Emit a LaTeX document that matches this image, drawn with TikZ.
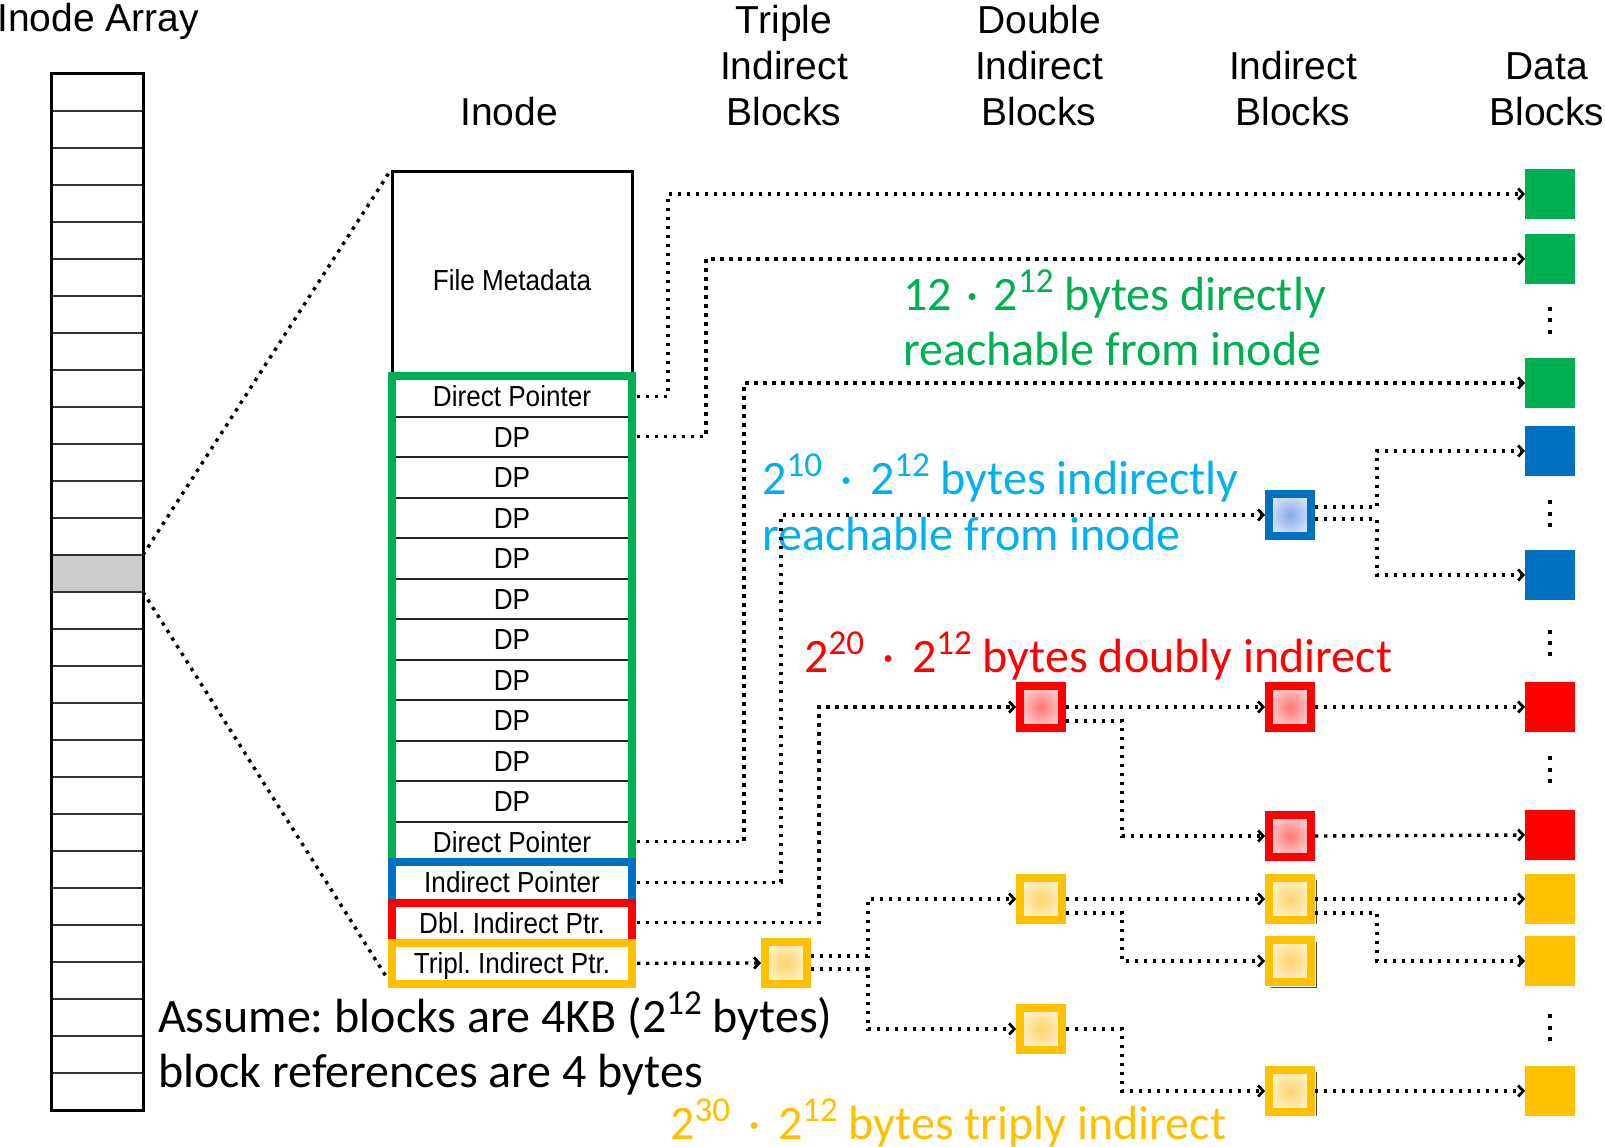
\documentclass[tikz,border=0pt]{standalone}
\usepackage{fontspec}
\setmainfont{Carlito}
\newfontfamily\hvfont{Liberation Sans}
\newfontfamily\hvnarrow[FakeStretch=0.9]{Liberation Sans}
\usetikzlibrary{arrows.meta,calc}
\frenchspacing

\definecolor{dgreen}{HTML}{00B050}
\definecolor{dblue}{HTML}{0070C0}
\definecolor{lblue}{HTML}{00B0F0}
\definecolor{dred}{HTML}{FF0000}
\definecolor{dyellow}{HTML}{FFC000}
\definecolor{bin}{RGB}{135,172,232}
\definecolor{bout}{RGB}{214,224,245}
\definecolor{rin}{RGB}{255,118,118}
\definecolor{rout}{RGB}{255,202,202}
\definecolor{yin}{RGB}{255,212,105}
\definecolor{yout}{RGB}{255,240,200}
\definecolor{selgray}{RGB}{204,204,204}

% raised exponent digits
\newcommand\upnum[1]{\raisebox{18pt}{\fontsize{35}{35}\selectfont #1}}
\newcommand\cdotsp{\hspace{18pt}·\hspace{18pt}}

\begin{document}
\begin{tikzpicture}[x=1pt,y=-1pt,
  hdr/.style={font=\hvfont\fontsize{39}{46}\selectfont, inner sep=0, anchor=base},
  cell/.style={minimum width=240, minimum height=40.5, inner sep=0, outer sep=0,
    text height=21, text depth=0, font=\hvnarrow\fontsize{29}{34}\selectfont},
  note/.style={font=\fontsize{48}{58}\selectfont, inner sep=0, anchor=base west},
  dots/.style={line width=3.4, dash pattern=on 3.4pt off 5.6pt},
  ptr/.style={dots, -{Straight Barb[length=5pt,width=11pt,line width=2.8pt]}},
  datablk/.style={minimum size=50, inner sep=0, outer sep=0},
  ptrblk/.style={minimum size=42, inner sep=0, line width=8},
  bptr/.style={ptrblk, draw=dblue, inner color=bin, outer color=bout},
  rptr/.style={ptrblk, draw=dred, inner color=rin, outer color=rout},
  yptr/.style={ptrblk, draw=dyellow, inner color=yin, outer color=yout},
]
\useasboundingbox (0,0) rectangle (1605,1147);
\fill[white] (0,0) rectangle (1605,1147);

% column headings
\node[hdr, anchor=base west] (hArr) at (-3,32) {Inode Array};
\node[hdr] (hIno) at (509,126) {Inode};
\node[hdr] (hT1) at (784,34) {Triple};
\node[hdr] (hT2) at (784,80) {Indirect};
\node[hdr] (hT3) at (784,126) {Blocks};
\node[hdr] (hD1) at (1039,34) {Double};
\node[hdr] (hD2) at (1039,80) {Indirect};
\node[hdr] (hD3) at (1039,126) {Blocks};
\node[hdr] (hI2) at (1293,80) {Indirect};
\node[hdr] (hI3) at (1293,126) {Blocks};
\node[hdr] (hB2) at (1547,80) {Data};
\node[hdr] (hB3) at (1547,126) {Blocks};

% size annotations
\node[note, text=dgreen] (tg1) at (903,311) {12\hspace{4pt} · \hspace{4pt}2\upnum{12} bytes directly};
\node[note, text=dgreen] (tg2) at (903,365) {reachable from inode};
\node[note, text=lblue] (tb1) at (762,494) {2\upnum{10}\cdotsp2\upnum{12} bytes indirectly};
\node[note, text=lblue] (tb2) at (762,550) {reachable from inode};
\node[note, text=dred] (tr1) at (804,672) {2\upnum{20}\cdotsp2\upnum{12} bytes doubly indirect};
\node[note, text=dyellow] (ty1) at (670,1139) {2\upnum{30}\cdotsp2\upnum{12} bytes triply indirect};
\node[note] (as1) at (158,1032) {Assume: blocks are 4KB (2\upnum{12} bytes)};
\node[note] (as2) at (158,1087) {block references are 4 bytes};

% inode array
\fill[selgray] (51,555) rectangle (143,592);
\foreach \i in {1,...,27}
  \draw[line width=2, black!80] (51,{74+37*\i}) -- (143,{74+37*\i});
\draw[line width=3] (51,74) rectangle (143,1110);
\coordinate (selTop) at (143,555);
\coordinate (selBot) at (143,592);

% the inode
\node[draw, line width=3, minimum width=240, minimum height=204, inner sep=0,
      font=\hvnarrow\fontsize{29}{34}\selectfont, text height=21, text depth=0]
      (meta) at (512,274) {\raisebox{-6pt}{File Metadata}};
\node[cell] (r0) at (512,396.25) {Direct Pointer};
\foreach \i in {1,...,10}
  \node[cell] (r\i) at (512,{396.25+40.5*\i}) {DP};
\node[cell] (r11) at (512,841.75) {Direct Pointer};
\node[cell] (r12) at (512,882.25) {Indirect Pointer};
\node[cell] (r13) at (512,922.75) {Dbl. Indirect Ptr.};
\node[cell] (r14) at (512,963.25) {Tripl. Indirect Ptr.};
\foreach \i in {0,...,10}
  \draw[line width=2, black!85] (r\i.south west) -- (r\i.south east);
\draw[dgreen, line width=8] (r0.north west) rectangle (r11.south east);
\draw[dblue, line width=8] (r12.north west) rectangle (r12.south east);
\draw[dred, line width=8] (r13.north west) rectangle (r13.south east);
\draw[dyellow, line width=8] (r14.north west) rectangle (r14.south east);

% zoom lines from the selected inode
\draw[dots] (selTop) -- (meta.north west);
\draw[dots] (selBot) -- ($(r14.south west)+(-4,-4)$);

% data blocks
\node[datablk, fill=dgreen] (G1) at (1550,194) {};
\node[datablk, fill=dgreen] (G2) at (1550,259) {};
\node[datablk, fill=dgreen] (G3) at (1550,383) {};
\node[datablk, fill=dblue] (B1) at (1550,451) {};
\node[datablk, fill=dblue] (B2) at (1550,575) {};
\node[datablk, fill=dred] (R1) at (1550,707) {};
\node[datablk, fill=dred] (R2) at (1550,835) {};
\node[datablk, fill=dyellow] (Y1) at (1550,899) {};
\node[datablk, fill=dyellow] (Y2) at (1550,961) {};
\node[datablk, fill=dyellow] (Y3) at (1550,1091) {};

% vertical ellipses between data blocks
\foreach \y in {309,320.5,332, 502,513.5,525, 632,643,654, 758,769.5,781, 1016,1027.5,1039}
  \fill (1548,{\y-2}) rectangle (1552,{\y+2});

% pointer blocks
\node[bptr] (Bi) at (1290,515) {};
\node[rptr] (Rd) at (1041,707) {};
\node[rptr] (Ri1) at (1290,707) {};
\node[rptr] (Ri2) at (1290,836) {};
\node[yptr] (Yt) at (786,963) {};
\node[yptr] (Yd1) at (1041,899) {};
\node[yptr] (Yd2) at (1041,1029) {};
\node[yptr] (Yi1) at (1290,899) {};
\node[yptr] (Yi2) at (1290,961) {};
\node[yptr] (Yi3) at (1290,1091) {};

% slight shadow edges on the indirect yellow blocks
\draw[black!70, line width=1.6] ($(Yi1.north east)+(1.5,6)$) -- ($(Yi1.south east)+(1.5,0)$);
\draw[black!70, line width=1.6] ($(Yi2.north east)+(1.5,6)$) -- ($(Yi2.south east)+(1.5,1.5)$)
  -- ($(Yi2.south west)+(6,1.5)$);
\draw[black!70, line width=1.6] ($(Yi3.north east)+(1.5,6)$) -- ($(Yi3.south east)+(1.5,0)$);

% direct pointers
\draw[ptr] ($(r0.east)+(5,0)$) -- ++(31,0) |- (G1.west);
\draw[ptr] ($(r1.east)+(5,0)$) -- ++(69,0) |- (G2.west);
\draw[ptr] ($(r11.east)+(5,0)$) -- ++(107,0) |- (G3.west);

% single indirect
\draw[ptr] ($(r12.east)+(5,0)$) -- ++(144,0) |- (Bi.west);
\draw[ptr] ($(Bi.east)+(0,-8)$) -- ++(62,0) |- (B1.west);
\draw[ptr] ($(Bi.east)+(0,4)$) -- ++(62,0) |- (B2.west);

% double indirect
\draw[ptr] ($(r13.east)+(5,0)$) -- ++(182,0) |- (Rd.west);
\draw[ptr] (Rd.east) -- (Ri1.west);
\draw[ptr] ($(Rd.east)+(0,14)$) -- ++(56,0) |- (Ri2.west);
\draw[ptr] (Ri1.east) -- (R1.west);
\draw[ptr] (Ri2.east) -- (R2.west);

% triple indirect
\draw[ptr] ($(r14.east)+(5,0)$) -- (Yt.west);
\draw[ptr] ($(Yt.east)+(0,-7)$) -- ++(57,0) |- (Yd1.west);
\draw[ptr] ($(Yt.east)+(0,6)$) -- ++(57,0) |- (Yd2.west);
\draw[ptr] (Yd1.east) -- (Yi1.west);
\draw[ptr] ($(Yd1.east)+(0,14)$) -- ++(56,0) |- (Yi2.west);
\draw[ptr] (Yd2.east) -- ++(56,0) |- (Yi3.west);
\draw[ptr] (Yi1.east) -- (Y1.west);
\draw[ptr] ($(Yi1.east)+(0,14)$) -- ++(62,0) |- (Y2.west);
\draw[ptr] (Yi3.east) -- (Y3.west);
\end{tikzpicture}
\end{document}
